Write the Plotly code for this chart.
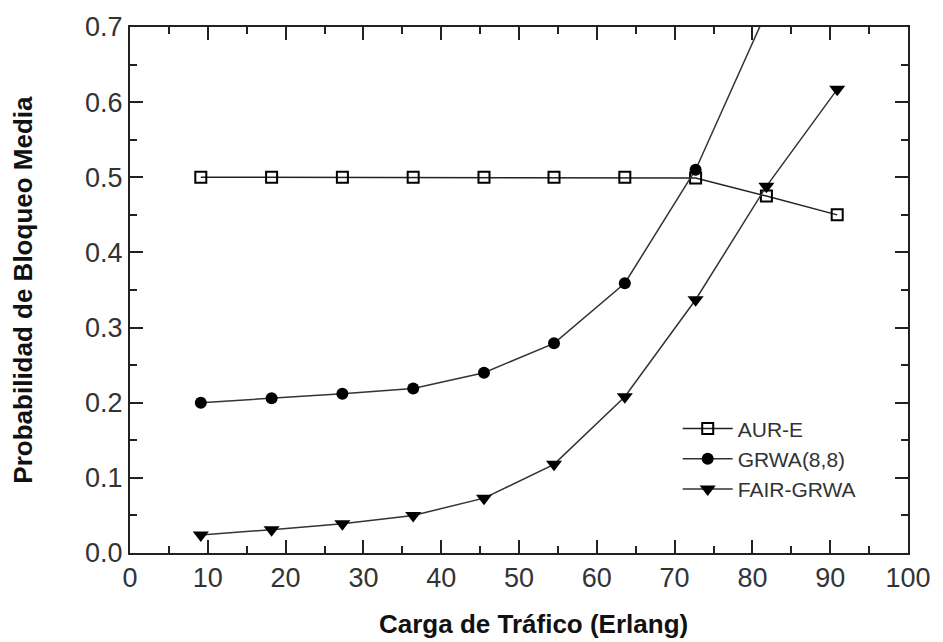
import plotly.graph_objects as go

carga = [9.1, 18.2, 27.3, 36.4, 45.5, 54.5, 63.6, 72.7, 81.8, 90.9]
aur_e = [0.5, 0.5, 0.5, 0.5, 0.5, 0.5, 0.5, 0.499, 0.475, 0.45]
grwa_x = [9.1, 18.2, 27.3, 36.4, 45.5, 54.5, 63.6, 72.7, 81.8]
grwa = [0.200, 0.206, 0.212, 0.219, 0.240, 0.279, 0.359, 0.510, 0.72]
fair_grwa = [0.024, 0.031, 0.039, 0.050, 0.073, 0.118, 0.208, 0.337, 0.488, 0.617]

names = ["AUR-E", "GRWA(8,8)", "FAIR-GRWA"]
x_title = "Carga de Tráfico (Erlang)"
y_title = "Probabilidad de Bloqueo Media"

fig = go.Figure()
fig.add_trace(go.Scatter(
    x=carga, y=aur_e, name=names[0], mode="lines+markers",
    line=dict(color="#222", width=1.5),
    marker=dict(symbol="square-open", size=11, color="#000", line=dict(width=2, color="#000")),
))
fig.add_trace(go.Scatter(
    x=grwa_x, y=grwa, name=names[1], mode="lines+markers",
    line=dict(color="#333", width=1.5),
    marker=dict(symbol="circle", size=12, color="#000"),
))
fig.add_trace(go.Scatter(
    x=carga, y=fair_grwa, name=names[2], mode="lines+markers",
    line=dict(color="#333", width=1.5),
    marker=dict(symbol="triangle-down", size=14, color="#000"),
))

axis_common = dict(
    showgrid=False, zeroline=False, showline=True, linecolor="#222", linewidth=2,
    mirror="allticks", ticks="inside", ticklen=13, tickwidth=2, tickcolor="#222",
    tickfont=dict(family="Liberation Sans, Arial", size=27, color="#333"),
)

fig.update_xaxes(range=[0, 100], dtick=10, tick0=0,
                 minor=dict(ticks="inside", ticklen=7, tickwidth=2, tickcolor="#222", dtick=5),
                 **axis_common)
fig.update_yaxes(range=[0, 0.7], dtick=0.1, tick0=0, tickformat=".1f",
                 minor=dict(ticks="inside", ticklen=7, tickwidth=2, tickcolor="#222", dtick=0.05),
                 **axis_common)

fig.update_layout(
    width=943, height=642,
    margin=dict(l=130, r=31, t=23, b=89),
    plot_bgcolor="white", paper_bgcolor="white",
    showlegend=True,
    legend=dict(x=0.704, y=0.275, xanchor="left", yanchor="top", itemwidth=50,
                bgcolor="rgba(0,0,0,0)", borderwidth=0, tracegroupgap=0,
                font=dict(family="Liberation Sans, Arial", size=21, color="#333")),
    annotations=[
        dict(text=x_title, xref="paper", yref="paper", x=0.518, y=-0.135,
             xanchor="center", yanchor="middle", showarrow=False,
             font=dict(family="Liberation Sans, Arial", size=26, color="#111", weight="bold")),
        dict(text=y_title, xref="paper", yref="paper", x=-0.138, y=0.5,
             xanchor="center", yanchor="middle", showarrow=False, textangle=-90,
             font=dict(family="Liberation Sans, Arial", size=26, color="#111", weight="bold")),
    ],
)

fig.write_html("out.html", config={"displayModeBar": False},
               post_script="document.body.style.margin='0';document.body.style.overflow='hidden';")
